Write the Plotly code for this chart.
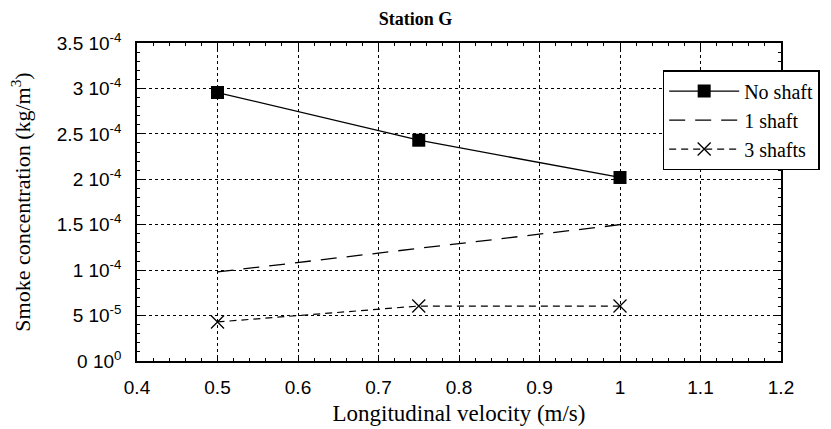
import plotly.graph_objects as go

velocity = [0.5, 0.75, 1.0]
no_shaft = [2.955e-4, 2.43e-4, 2.02e-4]
one_shaft = [0.98e-4, 1.24e-4, 1.5e-4]
three_shafts = [0.43e-4, 0.605e-4, 0.605e-4]

y_tickvals = [0, 0.5e-4, 1e-4, 1.5e-4, 2e-4, 2.5e-4, 3e-4, 3.5e-4]
y_ticktext = ["0 10<sup>0</sup>", "5 10<sup>-5</sup>", "1 10<sup>-4</sup>", "1.5 10<sup>-4</sup>",
              "2 10<sup>-4</sup>", "2.5 10<sup>-4</sup>", "3 10<sup>-4</sup>", "3.5 10<sup>-4</sup>"]
x_tickvals = [0.4, 0.5, 0.6, 0.7, 0.8, 0.9, 1.0, 1.1, 1.2]
x_ticktext = ["0.4", "0.5", "0.6", "0.7", "0.8", "0.9", "1", "1.1", "1.2"]

serif = "Liberation Serif, Times New Roman, serif"
sans = "Liberation Sans, Arial, sans-serif"

fig = go.Figure()
fig.add_trace(go.Scatter(x=velocity, y=no_shaft, mode="lines+markers", name="No shaft",
                         line=dict(color="black", width=1.3),
                         marker=dict(symbol="square", size=13, color="black")))
fig.add_trace(go.Scatter(x=velocity, y=one_shaft, mode="lines", name="1 shaft",
                         line=dict(color="black", width=1.3, dash="16px,10px")))
fig.add_trace(go.Scatter(x=velocity, y=three_shafts, mode="lines+markers", name="3 shafts",
                         line=dict(color="black", width=1.2, dash="7px,5px"),
                         marker=dict(symbol="x-thin", size=13, color="black",
                                     line=dict(color="black", width=1.3))))

axis_common = dict(showline=True, linecolor="black", linewidth=1.5, mirror="allticks",
                   ticks="inside", ticklen=6, tickcolor="black", tickwidth=1,
                   showgrid=True, gridcolor="black", griddash="dot", gridwidth=1.3,
                   zeroline=False, automargin=False,
                   tickfont=dict(family=sans, size=19, color="black"))

fig.update_xaxes(range=[0.4, 1.2], tickvals=x_tickvals, ticktext=x_ticktext,
                 ticklabelstandoff=8,
                 minor=dict(dtick=0.02, ticks="inside", ticklen=3, tickcolor="black", showgrid=False),
                 title=dict(text="Longitudinal velocity (m/s)", font=dict(family=serif, size=23, color="black"),
                            standoff=8),
                 **axis_common)
fig.update_yaxes(range=[0, 3.5e-4], tickvals=y_tickvals, ticktext=y_ticktext,
                 ticklabelstandoff=10,
                 minor=dict(dtick=1e-5, ticks="inside", ticklen=3, tickcolor="black", showgrid=False),
                 title=dict(text="Smoke concentration (kg/m<sup>3</sup>)", font=dict(family=serif, size=22, color="black"),
                            standoff=20),
                 **axis_common)

fig.update_layout(
    width=831, height=429,
    margin=dict(l=137, r=49, t=43, b=68),
    paper_bgcolor="white", plot_bgcolor="white",
    title=dict(text="<b>Station G</b>", x=0.5, xanchor="center", y=0.97, yanchor="top",
               font=dict(family=serif, size=18, color="black")),
    legend=dict(x=0.815, y=0.915, xanchor="left", yanchor="top",
                bgcolor="white", bordercolor="black", borderwidth=1.5,
                font=dict(family=serif, size=20, color="black"),
                tracegroupgap=0, itemwidth=70),
    showlegend=True,
)

fig.write_html("out.html")
